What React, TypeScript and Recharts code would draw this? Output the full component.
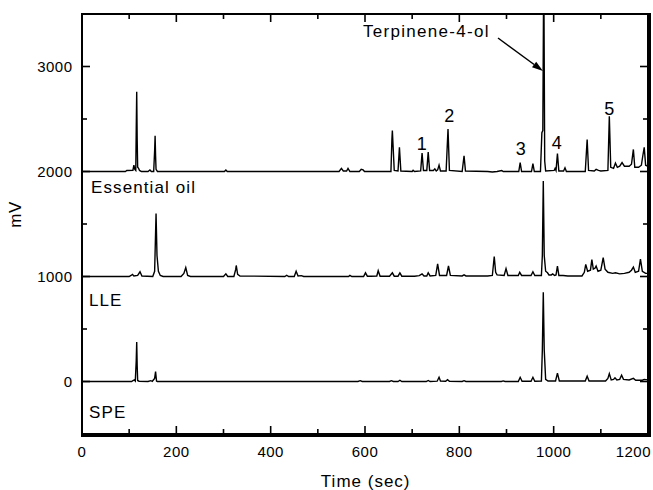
import React from 'react';
import { LineChart, Line, XAxis, YAxis, Customized } from 'recharts';

// Chromatogram traces: [time (sec), signal (mV)] — offsets 2000 / 1000 / 0 as in the figure
const essentialOil: [number, number][] = [
  [0, 2000], [92, 2000], [95, 2010], [108, 2012], [110, 2060], [112, 2020], [114, 2010], [115, 2400], [116, 2760], [117, 2300],
  [118, 2040], [120, 2030], [122, 2010], [126, 2000], [140, 2000], [144, 2015], [147, 2000], [152, 2000], [154, 2200], [155, 2340],
  [156, 2150], [157, 2020], [160, 2000], [302, 2000], [305, 2015], [308, 2000], [545, 2000], [550, 2030], [554, 2005], [561, 2005],
  [564, 2030], [568, 2000], [588, 2000], [592, 2020], [596, 2015], [599, 2000], [655, 2000], [657, 2300], [658, 2390], [660, 2200],
  [662, 2010], [670, 2005], [673, 2230], [676, 2005], [700, 2000], [702, 2012], [705, 2000], [718, 2005], [721, 2175], [724, 2010],
  [731, 2010], [734, 2185], [737, 2010], [745, 2010], [748, 2025], [751, 2005], [754, 2015], [757, 2060], [760, 2005], [772, 2005],
  [776, 2405], [779, 2010], [806, 2000], [810, 2150], [813, 2005], [860, 2000], [870, 1995], [880, 2000], [890, 2010], [893, 2000],
  [926, 2000], [929, 2085], [932, 2000], [953, 2000], [956, 2075], [959, 2000], [972, 2000], [975, 2370], [977, 2390], [979, 4000],
  [981, 2100], [983, 2005], [1001, 2010], [1003, 2030], [1005, 2010], [1008, 2170], [1011, 2005], [1021, 2005], [1024, 2035], [1027, 2000],
  [1067, 2000], [1071, 2305], [1074, 2010], [1086, 2005], [1090, 2020], [1095, 2010], [1100, 2005], [1115, 2010], [1118, 2525], [1121, 2040],
  [1127, 2030], [1131, 2080], [1135, 2040], [1140, 2050], [1145, 2085], [1150, 2050], [1160, 2050], [1165, 2070], [1169, 2210], [1172, 2040],
  [1180, 2040], [1186, 2060], [1189, 2150], [1192, 2230], [1195, 2060], [1200, 2050],
];

const lle: [number, number][] = [
  [0, 1000], [100, 1000], [104, 1010], [107, 1020], [110, 1005], [118, 1010], [123, 1045], [127, 1005], [150, 1000], [154, 1050],
  [157, 1600], [159, 1200], [162, 1050], [166, 1010], [172, 1000], [210, 1000], [216, 1030], [220, 1085], [224, 1010], [230, 1000],
  [300, 1000], [305, 1025], [309, 1000], [322, 1000], [326, 1070], [327, 1105], [330, 1020], [335, 1005], [430, 1000], [434, 1012],
  [438, 1000], [450, 1000], [454, 1050], [458, 1005], [465, 1008], [470, 1000], [500, 1000], [565, 1000], [568, 1010], [572, 1000],
  [597, 1000], [601, 1035], [605, 1003], [612, 1003], [625, 1005], [628, 1055], [632, 1003], [652, 1003], [658, 1035], [662, 1003],
  [670, 1003], [674, 1035], [678, 1003], [705, 1003], [715, 1008], [721, 1025], [725, 1005], [731, 1005], [734, 1035], [738, 1005],
  [750, 1010], [754, 1120], [758, 1010], [773, 1010], [777, 1100], [781, 1010], [806, 1005], [810, 1015], [814, 1005], [860, 1005],
  [870, 1010], [874, 1190], [877, 1040], [880, 1015], [895, 1010], [899, 1075], [903, 1010], [925, 1010], [928, 1040], [932, 1010],
  [952, 1010], [956, 1045], [960, 1010], [974, 1010], [976, 1200], [978, 1910], [980, 1200], [983, 1050], [987, 1035], [990, 1015],
  [995, 1015], [998, 1025], [1002, 1010], [1005, 1015], [1008, 1100], [1011, 1010], [1020, 1010], [1030, 1005], [1060, 1005], [1065, 1040],
  [1068, 1115], [1072, 1050], [1078, 1060], [1081, 1160], [1084, 1070], [1088, 1080], [1090, 1100], [1094, 1050], [1100, 1060], [1105, 1180],
  [1109, 1070], [1115, 1040], [1125, 1030], [1131, 1035], [1140, 1025], [1150, 1030], [1160, 1040], [1165, 1060], [1169, 1090], [1173, 1040],
  [1180, 1050], [1184, 1165], [1188, 1050], [1195, 1030], [1200, 1030],
];

const spe: [number, number][] = [
  [0, 0], [105, 0], [108, 8], [111, 15], [113, 5], [115, 200], [116, 375], [117, 150], [118, 10], [121, 3],
  [140, 0], [146, 8], [149, 2], [154, 30], [156, 95], [158, 5], [160, 0], [585, 0], [590, 8], [594, 0],
  [652, 0], [656, 8], [660, 0], [670, 0], [674, 12], [678, 0], [730, 0], [734, 10], [738, 0], [753, 3],
  [757, 40], [760, 5], [771, 3], [775, 18], [779, 3], [806, 0], [810, 8], [814, 0], [889, 0], [893, 6],
  [897, 0], [925, 0], [929, 40], [933, 2], [952, 2], [956, 40], [960, 2], [974, 5], [976, 300], [978, 850],
  [980, 300], [983, 20], [988, 5], [1004, 5], [1008, 80], [1012, 5], [1020, 5], [1067, 5], [1071, 50], [1075, 5],
  [1110, 5], [1115, 30], [1118, 75], [1122, 15], [1127, 20], [1130, 35], [1134, 15], [1140, 20], [1144, 60], [1148, 20],
  [1160, 15], [1169, 30], [1174, 12], [1188, 12], [1192, 20], [1200, 15],
];

const xTicks = [0, 100, 200, 300, 400, 500, 600, 700, 800, 900, 1000, 1100, 1200];
const yTicks = [0, 500, 1000, 1500, 2000, 2500, 3000];
const xDomain: [number, number] = [0, 1200];
const yDomain: [number, number] = [-500, 3500];

const toRows = (pts: [number, number][]) => pts.map(([t, v]) => ({ t, v }));

const FONT = '"Liberation Sans", Arial, Helvetica, sans-serif';

// chart layout
const W = 653;
const H = 490;
const M = { top: 14, right: 5, bottom: 0, left: 0 };
const X_AXIS_H = 56;
const Y_AXIS_W = 82;
const PL = M.left + Y_AXIS_W;
const PR = W - M.right;
const PT = M.top;
const PB = H - M.bottom - X_AXIS_H;
const sx = (t: number) => PL + ((t - xDomain[0]) / (xDomain[1] - xDomain[0])) * (PR - PL);
const sy = (v: number) => PB - ((v - yDomain[0]) / (yDomain[1] - yDomain[0])) * (PB - PT);

const BottomTick = (p: any) => {
  const { x, y, payload } = p;
  const major = payload.value % 200 === 0;
  const last = payload.value === xDomain[1];
  return (
    <g>
      <line x1={x} x2={x} y1={y} y2={y - (major ? 8 : 5)} stroke="#000" strokeWidth={1.6} />
      {major && (
        <text
          x={last ? x + 3 : x}
          y={y + 23}
          textAnchor={last ? 'end' : 'middle'}
          fontFamily={FONT}
          fontSize={15}
          letterSpacing={0.5}
          fill="#000"
        >
          {payload.value}
        </text>
      )}
    </g>
  );
};

const LeftTick = (p: any) => {
  const { x, y, payload } = p;
  const major = payload.value % 1000 === 0;
  return (
    <g>
      <line x1={x} x2={x + (major ? 8 : 5)} y1={y} y2={y} stroke="#000" strokeWidth={1.6} />
      {major && (
        <text x={x - 9.5} y={y + 5.3} textAnchor="end" fontFamily={FONT} fontSize={15} letterSpacing={0.5} fill="#000">
          {payload.value}
        </text>
      )}
    </g>
  );
};

// box frame with mirrored inward ticks on top / right, plus the text annotations
const Overlay = () => (
  <g>
    <rect x={PL} y={PT} width={PR - PL} height={PB - PT} fill="none" stroke="#000000" strokeWidth={2} />
    {xTicks.slice(1, -1).map((t) => (
      <line key={`tt${t}`} x1={sx(t)} x2={sx(t)} y1={PT} y2={PT + (t % 200 === 0 ? 8 : 5)} stroke="#000000" strokeWidth={1.6} />
    ))}
    {yTicks.map((v) => (
      <line key={`rt${v}`} x1={PR} x2={PR - (v % 1000 === 0 ? 8 : 5)} y1={sy(v)} y2={sy(v)} stroke="#000000" strokeWidth={1.6} />
    ))}
    <g fontFamily={FONT} fill="#000">
      <text x={363} y={37} fontSize={17} letterSpacing={1.3}>Terpinene-4-ol</text>
      <line x1={498} y1={38} x2={534.1} y2={64.5} stroke="#000" strokeWidth={1.5} />
      <polygon points="543,71 532,67.3 536.2,61.7" fill="#000" />
      <text x={421.7} y={149.8} fontSize={18} textAnchor="middle">1</text>
      <text x={449.3} y={121.5} fontSize={18} textAnchor="middle">2</text>
      <text x={520.7} y={154.8} fontSize={18} textAnchor="middle">3</text>
      <text x={556.7} y={149.2} fontSize={18} textAnchor="middle">4</text>
      <text x={609.3} y={114.8} fontSize={18} textAnchor="middle">5</text>
      <text x={91} y={192.7} fontSize={17} letterSpacing={1.1}>Essential oil</text>
      <text x={89} y={306} fontSize={17} letterSpacing={1.1}>LLE</text>
      <text x={89} y={418.3} fontSize={17} letterSpacing={1.1}>SPE</text>
      <text x={365.7} y={486.5} fontSize={17} textAnchor="middle" letterSpacing={1}>Time (sec)</text>
      <text x={21} y={214.5} fontSize={17} textAnchor="middle" transform="rotate(-90, 21, 214.5)" letterSpacing={0.5}>mV</text>
    </g>
  </g>
);

export default function App() {
  return (
    <div style={{ position: 'absolute', left: 0, top: 0, width: W, height: H, background: '#fff' }}>
      <LineChart width={W} height={H} margin={M}>
        <XAxis
          xAxisId="b"
          type="number"
          dataKey="t"
          domain={xDomain}
          allowDataOverflow
          ticks={xTicks}
          interval={0}
          height={X_AXIS_H}
          tickSize={0}
          tickMargin={0}
          tickLine={false}
          axisLine={{ stroke: '#000', strokeWidth: 2 }}
          tick={BottomTick}
        />
        <YAxis
          yAxisId="l"
          type="number"
          domain={yDomain}
          allowDataOverflow
          ticks={yTicks}
          interval={0}
          width={Y_AXIS_W}
          tickSize={0}
          tickMargin={0}
          tickLine={false}
          axisLine={{ stroke: '#000', strokeWidth: 2 }}
          tick={LeftTick}
        />
        <Line xAxisId="b" yAxisId="l" data={toRows(essentialOil)} dataKey="v" type="linear" dot={false} stroke="#000" strokeWidth={1.4} isAnimationActive={false} />
        <Line xAxisId="b" yAxisId="l" data={toRows(lle)} dataKey="v" type="linear" dot={false} stroke="#000" strokeWidth={1.4} isAnimationActive={false} />
        <Line xAxisId="b" yAxisId="l" data={toRows(spe)} dataKey="v" type="linear" dot={false} stroke="#000" strokeWidth={1.4} isAnimationActive={false} />
        <Customized component={Overlay} />
      </LineChart>
      {/* CSS border overlay guaranteeing the plot frame */}
      <div
        style={{
          position: 'absolute',
          left: PL - 1,
          top: PT - 1,
          width: PR - PL,
          height: PB - PT,
          border: '2px solid #000',
          pointerEvents: 'none',
        }}
      />
    </div>
  );
}
